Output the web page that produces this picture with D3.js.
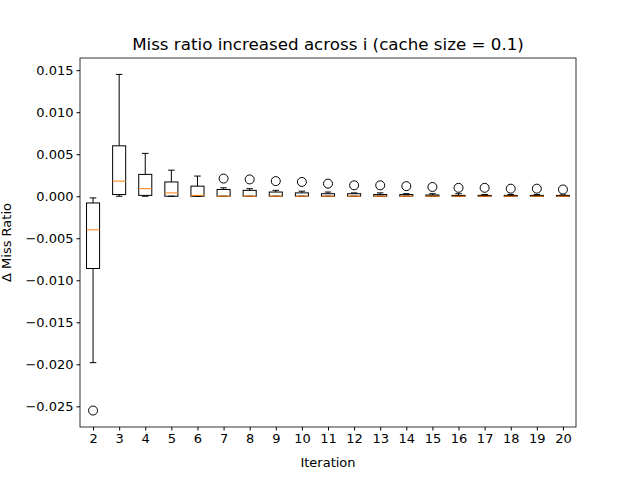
<!DOCTYPE html><html><head><script src="https://cdn.jsdelivr.net/npm/d3@7"></script>
<style>body{margin:0;background:#fff}text{font-family:"DejaVu Sans";}</style></head><body>
<svg id="c" width="640" height="480"></svg>
<script>
const iterations=[2,3,4,5,6,7,8,9,10,11,12,13,14,15,16,17,18,19,20];
const whisLo=[-0.0198,0,0,0,0,0,0,0,0,0,0,0,0,0,0,0,0,0,0];
const q1=[-0.0086,0.0002,0.0001,0,0,0,0,0,0,0,0,0,0,0,0,0,0,0,0];
const median=[-0.0040,0.0018,0.0009,0.0004,0.0001,0,0,0,0,0,0,0,0,0,0,0,0,0,0];
const q3=[-0.0008,0.0060,0.0026,0.0017,0.0012,0.0008,0.0007,0.0005,0.0004,0.0003,0.0003,0.0002,0.0002,0.00015,0.0001,0.0001,0.0001,0.0001,0.0001];
const whisHi=[-0.0002,0.0145,0.0051,0.0031,0.0024,0.0010,0.0009,0.0007,0.0006,0.0005,0.0004,0.0004,0.0003,0.0003,0.0003,0.0002,0.0002,0.0002,0.00015];
const outliers=[[-0.0255],[],[],[],[],[0.0021],[0.0020],[0.0018],[0.0017],[0.0015],[0.0013],[0.0013],[0.0012],[0.0011],[0.0010],[0.0010],[0.0009],[0.0009],[0.0008]];
const yTicks=[0.015,0.010,0.005,0.000,-0.005,-0.010,-0.015,-0.020,-0.025];
const svg=d3.select("#c");
const L=80,R=576,T=58,B=427;
const x=d3.scaleLinear().domain([0.5,19.5]).range([L,R]);
const y=d3.scaleLinear().domain([-0.02746,0.01645]).range([B,T]);
const bw=(x(1)-x(0))*0.5, cw=bw/2;
const g=svg.append("g");
iterations.forEach((it,i)=>{
  const cx=x(i+1);
  const line=(x1,y1,x2,y2,c)=>g.append("line").attr("x1",x1).attr("y1",y1).attr("x2",x2).attr("y2",y2).attr("stroke",c||"#000").attr("stroke-width",1);
  line(cx,y(whisLo[i]),cx,y(q1[i]));line(cx,y(q3[i]),cx,y(whisHi[i]));
  line(cx-cw/2,y(whisLo[i]),cx+cw/2,y(whisLo[i]));line(cx-cw/2,y(whisHi[i]),cx+cw/2,y(whisHi[i]));
  g.append("rect").attr("x",cx-bw/2).attr("y",y(q3[i])).attr("width",bw).attr("height",Math.max(0,y(q1[i])-y(q3[i]))).attr("fill","none").attr("stroke","#000");
  line(cx-bw/2,y(median[i]),cx+bw/2,y(median[i]),"#ff7f0e");
  outliers[i].forEach(o=>g.append("circle").attr("cx",cx).attr("cy",y(o)).attr("r",4.5).attr("fill","none").attr("stroke","#000"));
});
svg.append("g").attr("transform",`translate(0,${B})`).call(d3.axisBottom(x).tickValues(d3.range(1,20)).tickFormat(d=>iterations[d-1]).tickSizeOuter(0).tickSize(3.5)).call(a=>{a.select(".domain").remove();a.selectAll("text").attr("font-size",13).attr("fill","#000").attr("font-family","DejaVu Sans");});
svg.append("g").attr("transform",`translate(${L},0)`).call(d3.axisLeft(y).tickValues(yTicks).tickFormat(d3.format(".3f")).tickSize(3.5)).call(a=>{a.select(".domain").remove();a.selectAll("text").attr("font-size",13).attr("fill","#000").attr("font-family","DejaVu Sans").text(d=>d3.format(".3f")(d).replace("-","−"));});
svg.append("rect").attr("x",L).attr("y",T).attr("width",R-L).attr("height",B-T).attr("fill","none").attr("stroke","#000").attr("stroke-width",0.8);
svg.append("text").attr("x",(L+R)/2).attr("y",T-8).attr("text-anchor","middle").attr("font-size",16.7).text("Miss ratio increased across i (cache size = 0.1)");
svg.append("text").attr("x",(L+R)/2).attr("y",467).attr("text-anchor","middle").attr("font-size",13).text("Iteration");
svg.append("text").attr("transform",`translate(11,${(T+B)/2}) rotate(-90)`).attr("text-anchor","middle").attr("font-size",13).text("Δ Miss Ratio");
</script></body></html>
